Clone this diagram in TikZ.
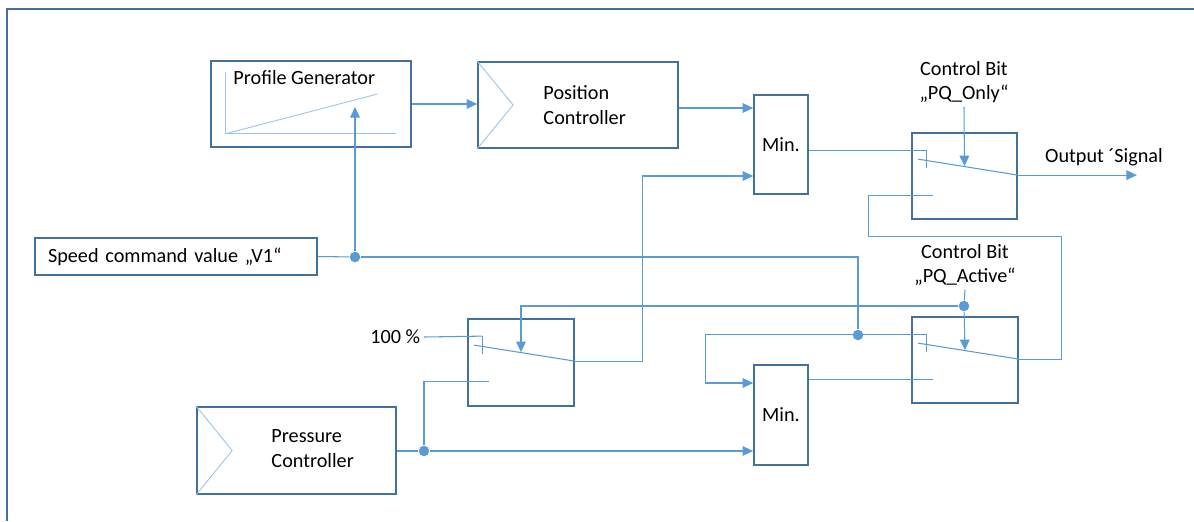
\documentclass[tikz,border=0pt]{standalone}
\usepackage{fontspec}
\setmainfont{Carlito}
\usepackage{tikz}
\usetikzlibrary{arrows.meta}
\usetikzlibrary{positioning}
\usetikzlibrary{calc}
\definecolor{boxblue}{HTML}{41719C}
\definecolor{wireblue}{HTML}{5B9BD5}
\definecolor{lightblue}{HTML}{9DC3E6}

\begin{document}
\begin{tikzpicture}[
    x=0.02cm, y=-0.02cm,
    font=\fontsize{11.5}{14}\selectfont,
    blk/.style={draw=boxblue, line width=1pt, inner sep=0pt},
    lbl/.style={inner sep=2pt, align=center},
    wire/.style={draw=wireblue, line width=0.6pt},
    sig/.style={wire, -{Triangle[length=6pt, width=5.5pt]}},
    faint/.style={draw=lightblue, line width=0.5pt},
    jdot/.style={circle, fill=wireblue, inner sep=0pt, minimum size=6pt}
]
\useasboundingbox (0,0) rectangle (1194,521);

% Frame
\draw[boxblue, line width=1.4pt] (7,521) -- (7,9) -- (1194,9);

% Blocks
\node[blk, minimum width=4cm, minimum height=1.72cm] (pg) at (311,104) {};
\node[blk, minimum width=4cm, minimum height=1.72cm] (pc) at (578,105) {};
\node[blk, minimum width=1.08cm, minimum height=1.98cm] (min1) at (781,144.5) {Min.};
\node[blk, minimum width=2.1cm, minimum height=1.72cm] (swo) at (964.5,176) {};
\node[blk, text width=5.12cm, inner xsep=0.26cm, minimum height=0.74cm, align=left] (speed) at (176,256.5) {Speed command value „V1“};
\node[blk, minimum width=2.12cm, minimum height=1.74cm] (swp) at (521,362.5) {};
\node[blk, minimum width=2.12cm, minimum height=1.72cm] (swa) at (965,360) {};
\node[blk, minimum width=1.08cm, minimum height=2cm] (min2) at (781,415) {Min.};
\node[blk, minimum width=3.98cm, minimum height=1.74cm] (prc) at (296.5,450.5) {};

% Block texts
\node[lbl, anchor=west, inner sep=0pt] (pgtxt) at ([shift={(23,17)}]pg.north west) {Profile Generator};
\node[lbl, anchor=west, align=left, inner sep=0pt] (pctxt) at ([shift={(66,0)}]pc.west) {Position\\Controller};
\node[lbl, anchor=west, align=left, inner sep=0pt] (prctxt) at ([shift={(75,-2)}]prc.west) {Pressure\\Controller};

% Controller chevrons
\foreach \b in {pc,prc}
  \draw[faint] (\b.north west) -- ([shift={(36,0)}]\b.west) -- (\b.south west);

% Profile ramp
\draw[faint] ([shift={(15,12)}]pg.north west) |- ([shift={(186,-14)}]pg.south west);
\draw[faint] ([shift={(15,-14)}]pg.south west) -- ([shift={(167,34)}]pg.north west);

% Switch contacts
\foreach \s in {swp,swo,swa}{
  \coordinate (\s-up) at ([shift={(15,18)}]\s.north west);
  \coordinate (\s-bl) at ([shift={(7,27)}]\s.north west);
  \coordinate (\s-out) at ([shift={(0,43)}]\s.north east);
  \coordinate (\s-lo) at ([shift={(22,63)}]\s.north west);
  \coordinate (\s-c) at ([shift={(0,34)}]\s.north);
  \draw[wire] (\s-up) -- ++(0,18);
  \draw[wire] (\s-bl) -- (\s-out);
}

% Labels
\node[lbl, anchor=east] (pct) at (424,337) {100 \%};
\node[lbl] (ctlo) at (964,82) {Control Bit\\„PQ\_Only“};
\node[lbl] (ctla) at (965,265) {Control Bit\\„PQ\_Active“};
\node[lbl] (outtxt) at (1104,157) {Output ´Signal};

% Junctions
\node[jdot] (d1) at (355,257) {};
\node[jdot] (d2) at (424,451) {};
\node[jdot] (d3) at (858,335) {};
\node[jdot] (d4) at (964,306) {};

% Ports
\coordinate (m1a) at ($(min1.west)+(0,-36.5)$);
\coordinate (m1b) at ($(min1.west)+(0,31.5)$);
\coordinate (m2a) at ($(min2.west)+(0,-32)$);
\coordinate (m2b) at ($(min2.west)+(0,36)$);
\coordinate (pgin) at ($(d1)+(0,-150)$);
\coordinate (outend) at ($(swo-out)+(119,0)$);

% Signal flow
\draw[sig] (pg.east) -- (pg.east -| pc.west);
\draw[sig] (pc.east |- m1a) -- (m1a);
\draw[wire] (speed.east) -- (d1);
\draw[sig] (d1) -- (pgin);
\draw[wire] (d1) -| (d3);
\draw[sig] (swa-up) -- ++(-221,0) |- (m2a);
\draw[wire] (pct.east) -- (swp-up);
\draw[wire] (prc.east |- d2) -- (d2);
\draw[sig] (d2) -- (m2b);
\draw[wire] (d2) |- (swp-lo);
\draw[sig] (swp-out) -- ++(68,0) |- (m1b);
\draw[wire] (min1.east |- swo-up) -- (swo-up);
\draw[sig] (ctlo.south) -- (swo-c);
\draw[sig] (swo-out) -- (outend);
\draw[wire] (ctla.south) -- (d4);
\draw[sig] (d4) -- (swa-c);
\draw[sig] (d4) -| (swp-c);
\draw[wire] (min2.east |- swa-lo) -- (swa-lo);
\draw[wire] (swa-out) -- ++(43,0) |- ++(-193,-123) |- (swo-lo);

\end{tikzpicture}
\end{document}
